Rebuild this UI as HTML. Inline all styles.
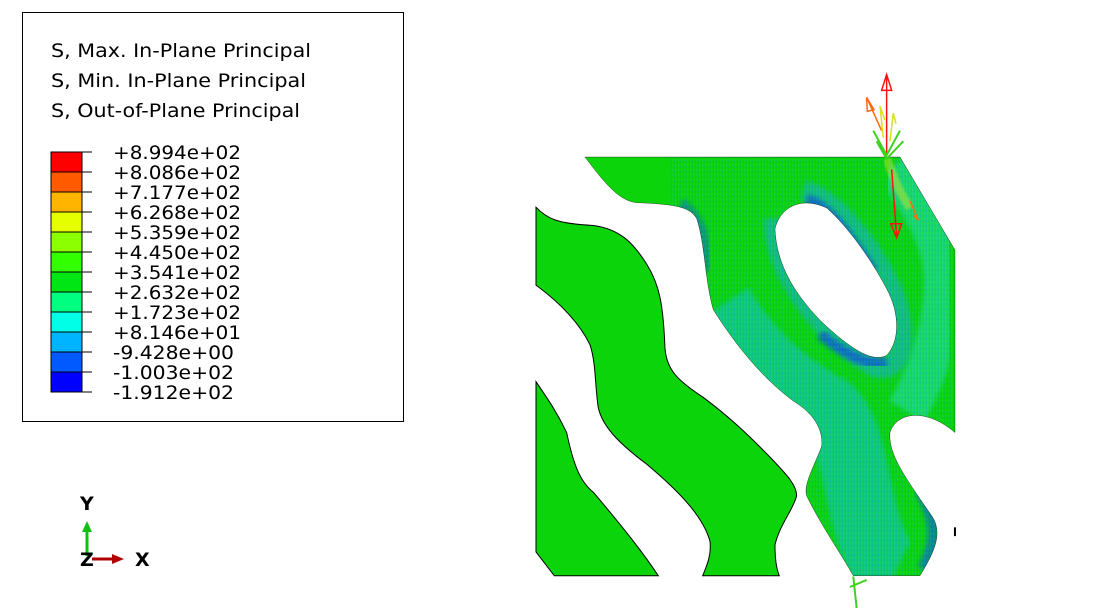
<!DOCTYPE html>
<html><head><meta charset="utf-8"><style>
html,body{margin:0;padding:0;background:#fff;}
svg{display:block;font-family:"DejaVu Sans","Liberation Sans",sans-serif;}
</style></head><body>
<svg width="1096" height="615" viewBox="0 0 1096 615">
<defs>
<clipPath id="bigclip"><path id="bigpath" clip-rule="evenodd" d="M195,275 L1140,275 L1305,540 L1305,1060 C1220,990 1130,1000 1110,1060 C1105,1120 1150,1180 1230,1290 C1270,1340 1250,1390 1200,1468 L1000,1468 C960,1400 900,1320 860,1240 C850,1210 880,1160 905,1100 C910,1060 890,1010 820,970 C720,900 640,800 580,710 C555,630 555,520 530,450 C510,420 480,410 350,405 C290,400 240,330 195,275 Z M765,480 C780,420 840,385 920,420 C980,470 1050,560 1100,650 C1140,720 1140,800 1100,840 C1060,860 1000,830 900,740 C820,660 770,580 765,480 Z" fill-rule="evenodd"/></clipPath>
<filter id="blur6"><feGaussianBlur stdDeviation="7"/></filter>
<filter id="blur3"><feGaussianBlur stdDeviation="3"/></filter>
<pattern id="tex" width="9" height="14" patternUnits="userSpaceOnUse">
<rect width="9" height="14" fill="none"/>
<line x1="1" y1="0" x2="1" y2="10" stroke="#0bd40b" stroke-width="2"/>
<line x1="5" y1="4" x2="5" y2="13" stroke="#1a6ef0" stroke-width="2"/>
<line x1="8" y1="1" x2="8" y2="7" stroke="#20e8d8" stroke-width="2"/>
</pattern>
</defs>

<g>
<rect x="22.5" y="12.5" width="381" height="409" fill="#fff" stroke="#000" stroke-width="1"/>
<text x="51" y="57" font-size="19" textLength="260" lengthAdjust="spacingAndGlyphs" fill="#000">S, Max. In-Plane Principal</text>
<text x="51" y="87" font-size="19" textLength="255" lengthAdjust="spacingAndGlyphs" fill="#000">S, Min. In-Plane Principal</text>
<text x="51" y="117" font-size="19" textLength="249" lengthAdjust="spacingAndGlyphs" fill="#000">S, Out-of-Plane Principal</text>
<g id="colorbar"></g>
</g>

<g>
<g transform="translate(520,60.5) scale(0.3333,0.351)">
<path d="M48,915 C80,960 110,1000 140,1060 C160,1150 180,1200 220,1230 C300,1320 360,1390 415,1468 L103,1468 L48,1400 Z" fill="#0bd40b" stroke="#000" stroke-width="1" vector-effect="non-scaling-stroke"/>
<path d="M48,418 C80,450 110,465 220,470 C300,480 340,520 380,580 C420,640 430,700 435,820 C440,880 470,910 550,960 C620,1010 680,1060 760,1140 C800,1180 830,1210 830,1240 C820,1280 780,1320 765,1380 C765,1420 770,1450 778,1468 L548,1468 C560,1440 575,1410 570,1370 C550,1300 480,1230 380,1150 C310,1100 250,1050 235,990 C225,930 228,860 210,810 C180,750 120,690 48,640 Z" fill="#0bd40b" stroke="#000" stroke-width="1" vector-effect="non-scaling-stroke"/>
<g>
<use href="#bigpath" fill="#0bd40b" fill-rule="evenodd"/>
<g clip-path="url(#bigclip)">
<path d="M600,700 C700,860 820,940 930,1000 C1000,1060 1000,1200 1050,1350 C1080,1420 1100,1460 1120,1470" fill="none" stroke="#19c0e8" stroke-width="200" filter="url(#blur6)" opacity="0.5"/>
<path d="M1120,300 C1180,380 1260,480 1270,600 C1280,750 1220,900 1160,1000" fill="none" stroke="#2ee0e0" stroke-width="120" filter="url(#blur6)" opacity="0.45"/>
<path d="M760,450 C760,600 900,780 1060,870 C1150,900 1170,780 1120,660 C1050,520 950,400 850,370" fill="none" stroke="#1fa8f0" stroke-width="60" filter="url(#blur6)" opacity="0.5"/>
<path d="M860,395 C940,420 1000,520 1060,600" fill="none" stroke="#0a30f0" stroke-width="30" filter="url(#blur6)" opacity="0.6"/>
<path d="M900,780 C980,840 1040,870 1100,860" fill="none" stroke="#0a30f0" stroke-width="30" filter="url(#blur6)" opacity="0.6"/>
<path d="M1190,1200 C1240,1290 1270,1350 1210,1450" fill="none" stroke="#0a50f0" stroke-width="40" filter="url(#blur6)" opacity="0.6"/>
<path d="M480,410 C540,450 560,520 560,600" fill="none" stroke="#0a50f0" stroke-width="40" filter="url(#blur6)" opacity="0.45"/>
<rect x="450" y="270" width="870" height="1210" fill="url(#tex)" opacity="0.3"/>
<path d="M1100,280 C1120,330 1140,380 1170,420" fill="none" stroke="#c8e030" stroke-width="25" filter="url(#blur3)" opacity="0.5"/>
</g>
<use href="#bigpath" fill="none" stroke="#000" stroke-width="1" vector-effect="non-scaling-stroke"/>
</g>
<g fill="none">
<path d="M1100,270 L1100,40 M1085,85 L1100,40 L1115,85 Z" stroke="#ff1010" stroke-width="1.5" vector-effect="non-scaling-stroke"/>
<path d="M1085,200 L1040,105 M1040,105 L1062,140 L1042,145 Z" stroke="#ff6a10" stroke-width="1.5" vector-effect="non-scaling-stroke"/>
<path d="M1090,220 L1080,130 L1095,170 M1110,230 L1120,150 L1128,180" stroke="#d8e020" stroke-width="1.5" vector-effect="non-scaling-stroke"/>
<path d="M1060,200 L1100,270 L1140,200 M1070,230 L1100,280 L1150,230" stroke="#40d020" stroke-width="2" vector-effect="non-scaling-stroke"/>
<path d="M1115,310 L1130,500 M1112,465 L1130,505 L1145,465 Z" stroke="#ff1010" stroke-width="1.5" vector-effect="non-scaling-stroke"/>
<path d="M1170,400 L1195,455 M1180,440 L1195,455" stroke="#ff6a10" stroke-width="1.5" vector-effect="non-scaling-stroke"/>
<path d="M1000,1470 L1010,1560 M990,1500 L1040,1480" stroke="#40d020" stroke-width="2" vector-effect="non-scaling-stroke"/>
<path d="M1305,1330 L1305,1355" stroke="#000" stroke-width="2" vector-effect="non-scaling-stroke"/>
</g>
</g>
</g>

<g>
<text x="80" y="510" font-size="19" font-weight="bold" fill="#000">Y</text>
<line x1="87" y1="556" x2="87" y2="530" stroke="#10c010" stroke-width="3"/>
<path d="M82,532 L87,521 L92,532 Z" fill="#10c010"/>
<line x1="92" y1="559" x2="114" y2="559" stroke="#b00000" stroke-width="3"/>
<path d="M112,554 L124,559 L112,564 Z" fill="#b00000"/>
<text x="80" y="566" font-size="19" font-weight="bold" fill="#000">Z</text>
<text x="135" y="566" font-size="19" font-weight="bold" fill="#000">X</text>
</g>
</svg>
<script>
const levelLabels = ["+8.994e+02","+8.086e+02","+7.177e+02","+6.268e+02","+5.359e+02","+4.450e+02","+3.541e+02","+2.632e+02","+1.723e+02","+8.146e+01","-9.428e+00","-1.003e+02","-1.912e+02"];
const bandColors = ["#ff0000","#ff5a00","#ffb400","#e6ff00","#8cff00","#32ff00","#00e614","#00ff80","#00ffe6","#00b4ff","#005aff","#0000ff"];
const NS = "http://www.w3.org/2000/svg";
const cb = document.getElementById("colorbar");
const top0 = 152, step = 20;
bandColors.forEach((c, i) => {
  const r = document.createElementNS(NS, "rect");
  r.setAttribute("x", 51); r.setAttribute("y", top0 + i * step);
  r.setAttribute("width", 31); r.setAttribute("height", step);
  r.setAttribute("fill", c); r.setAttribute("stroke", "#000"); r.setAttribute("stroke-width", "1");
  
  
  cb.appendChild(r);
});
levelLabels.forEach((t, i) => {
  const y = top0 + i * step;
  const l = document.createElementNS(NS, "line");
  l.setAttribute("x1", 82); l.setAttribute("x2", 92); l.setAttribute("y1", y); l.setAttribute("y2", y);
  l.setAttribute("stroke", "#000");
  
  
  cb.appendChild(l);
  const tx = document.createElementNS(NS, "text");
  tx.setAttribute("x", 113); tx.setAttribute("y", y + 7);
  tx.setAttribute("font-size", "19"); tx.setAttribute("fill", "#000");
  tx.setAttribute("textLength", t.startsWith("-") ? "121" : "128");
  tx.setAttribute("lengthAdjust", "spacingAndGlyphs");
  tx.textContent = t;
  
  
  cb.appendChild(tx);
});
</script>
</body></html>
